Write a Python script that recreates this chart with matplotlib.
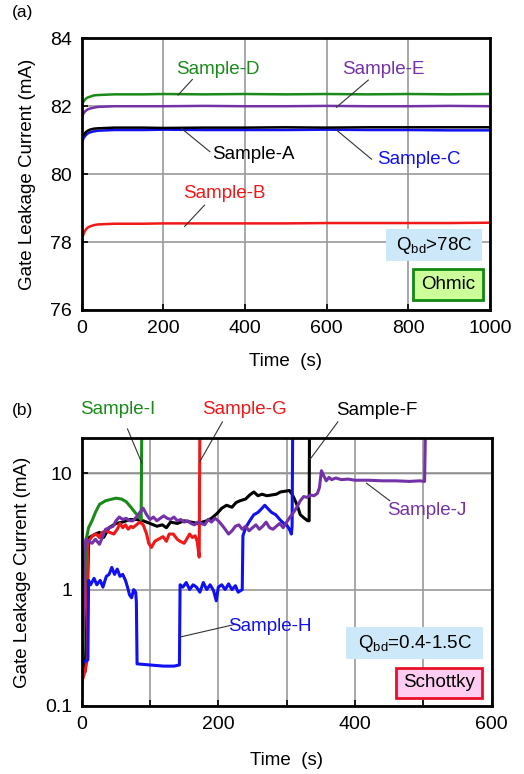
import numpy as np
import matplotlib
matplotlib.use('Agg')
import matplotlib.pyplot as plt
from matplotlib.patches import Rectangle

plt.rcParams['font.family'] = ['Liberation Sans', 'DejaVu Sans']
plt.rcParams['mathtext.fontset'] = 'custom'
plt.rcParams['mathtext.rm'] = 'Liberation Sans'
plt.rcParams['mathtext.it'] = 'Liberation Sans:italic'

GREEN = '#1a8a1a'
RED = '#f01818'
BLUE = '#1010f0'
PURPLE = '#7432a8'
BLACK = '#000000'

# ---- (a) Ohmic samples: time (s) and current (mA)
t_ohmic = [0, 2, 5, 10, 15, 20, 30, 40, 60, 80, 100, 150, 200, 300, 400, 500, 600, 700, 800, 900, 1000]
sample_a = [81.00, 81.08, 81.16, 81.24, 81.28, 81.31, 81.34, 81.35, 81.36, 81.37, 81.37, 81.37, 81.36,
            81.37, 81.37, 81.38, 81.37, 81.38, 81.38, 81.38, 81.38]
sample_b = [78.05, 78.15, 78.26, 78.37, 78.43, 78.46, 78.50, 78.52, 78.53, 78.54, 78.54, 78.54, 78.55,
            78.55, 78.55, 78.55, 78.56, 78.56, 78.56, 78.56, 78.57]
sample_c = [80.90, 80.98, 81.07, 81.15, 81.20, 81.23, 81.26, 81.28, 81.29, 81.30, 81.30, 81.30, 81.31,
            81.30, 81.30, 81.30, 81.31, 81.30, 81.30, 81.29, 81.29]
sample_d = [82.00, 82.08, 82.15, 82.22, 82.26, 82.28, 82.32, 82.33, 82.34, 82.35, 82.35, 82.35, 82.36,
            82.35, 82.36, 82.35, 82.36, 82.35, 82.36, 82.35, 82.36]
sample_e = [81.65, 81.73, 81.80, 81.87, 81.91, 81.93, 81.96, 81.98, 81.99, 82.00, 82.00, 82.00, 82.00,
            82.01, 82.00, 82.00, 82.01, 82.00, 82.00, 82.01, 82.00]

# ---- (b) Schottky samples: (time s, current mA)
sample_f = [(5, 0.2), (10, 2.4), (11, 2.8), (20, 3.0), (26, 3.1), (32, 2.8), (40, 3.4), (50, 3.7),
            (60, 3.8), (70, 4.0), (80, 4.0), (90, 3.9), (100, 3.7), (110, 3.5), (118, 3.6), (124, 3.4),
            (130, 3.8), (140, 3.7), (150, 3.9), (160, 3.8), (170, 3.7), (183, 3.9), (190, 4.1),
            (198, 4.5), (205, 5.0), (212, 5.3), (220, 5.1), (226, 5.6), (232, 5.8), (240, 6.0),
            (246, 6.5), (252, 6.9), (258, 6.4), (264, 6.6), (271, 6.4), (278, 6.5), (285, 6.6),
            (291, 6.9), (298, 7.0), (304, 7.1), (308, 6.6), (312, 5.9), (316, 5.2), (320, 4.4),
            (326, 4.1), (331, 3.9), (333, 3.9), (333.5, 30)]
sample_g = [(0, 0.16), (5, 0.2), (8, 0.25), (9, 2.6), (12, 2.7), (16, 2.9), (21, 3.0), (26, 2.8),
            (30, 3.1), (35, 3.2), (41, 3.1), (47, 3.0), (52, 3.3), (56, 3.7), (60, 3.4), (64, 3.6),
            (68, 3.3), (72, 3.5), (75, 3.4), (80, 3.6), (85, 3.8), (90, 3.6), (95, 3.0), (98, 2.5),
            (102, 2.3), (107, 2.6), (112, 2.7), (119, 2.85), (124, 2.6), (128, 3.0), (134, 3.0),
            (140, 2.7), (144, 2.6), (150, 2.5), (155, 2.8), (158, 3.0), (162, 2.8), (166, 2.9),
            (169, 2.6), (172, 1.9), (173, 30)]
sample_h = [(0, 0.16), (1, 0.24), (5, 0.24), (9, 0.25), (10, 1.2), (13, 1.1), (18, 1.25), (22, 1.1),
            (27, 1.2), (31, 1.05), (36, 1.3), (40, 1.35), (44, 1.55), (48, 1.35), (52, 1.5), (56, 1.3),
            (60, 1.35), (64, 1.2), (67, 1.05), (70, 0.9), (73, 0.85), (76, 1.0), (79, 0.95),
            (80, 0.78), (81, 0.23), (100, 0.225), (120, 0.22), (135, 0.22), (143, 0.225), (144, 1.1),
            (148, 1.05), (153, 1.15), (158, 1.0), (163, 1.1), (168, 1.05), (173, 0.95), (178, 1.15),
            (183, 1.0), (188, 1.1), (193, 0.98), (197, 0.8), (200, 1.05), (205, 1.1), (210, 1.0),
            (215, 1.12), (220, 1.0), (225, 1.08), (229, 0.95), (235, 1.0), (236, 2.9), (240, 3.4),
            (246, 3.9), (252, 4.4), (258, 4.6), (264, 5.0), (268, 5.3), (272, 5.0), (278, 4.6),
            (284, 4.4), (290, 4.0), (296, 3.7), (300, 3.6), (304, 3.3), (307, 3.0), (308, 3.5),
            (309, 30)]
sample_i = [(0, 0.15), (3, 0.5), (6, 2.6), (10, 3.4), (15, 3.9), (20, 4.6), (26, 5.4), (35, 5.8),
            (45, 6.0), (50, 6.1), (58, 6.0), (65, 5.7), (72, 5.1), (78, 4.6), (84, 4.2), (87, 4.0),
            (88, 30)]
sample_j = [(0, 0.13), (2, 0.5), (4, 2.0), (6, 2.7), (10, 2.6), (15, 2.5), (20, 2.7), (26, 2.45),
            (30, 2.8), (35, 3.3), (41, 3.4), (46, 3.5), (50, 3.9), (55, 4.2), (60, 4.0), (65, 4.1),
            (70, 3.9), (75, 3.9), (80, 4.2), (85, 4.6), (90, 5.0), (95, 4.4), (100, 4.0), (105, 4.2),
            (110, 3.9), (115, 4.1), (120, 4.3), (125, 4.1), (130, 4.0), (135, 4.2), (140, 3.9),
            (145, 4.0), (150, 3.8), (155, 3.9), (160, 3.7), (165, 3.6), (170, 3.8), (175, 3.7),
            (180, 3.6), (185, 4.0), (190, 3.8), (195, 4.1), (200, 3.9), (205, 3.6), (210, 3.3),
            (215, 3.0), (220, 3.2), (225, 3.5), (230, 3.6), (235, 3.3), (240, 3.5), (245, 3.2),
            (250, 3.4), (255, 3.6), (260, 3.3), (265, 3.5), (270, 3.8), (275, 3.4), (280, 3.3),
            (285, 3.5), (290, 3.7), (295, 3.4), (300, 3.8), (305, 4.2), (310, 4.6), (315, 5.1),
            (320, 5.8), (325, 6.3), (330, 6.2), (335, 6.5), (340, 6.4), (345, 6.7), (348, 7.5),
            (351, 10.5), (354, 9.6), (358, 8.6), (362, 9.2), (366, 8.8), (372, 9.1), (380, 8.8),
            (390, 8.9), (400, 8.7), (420, 8.7), (440, 8.6), (460, 8.6), (480, 8.5), (495, 8.6),
            (502, 8.5), (503, 19)]

FS = 13.5


def style_axes(ax):
    for sp in ax.spines.values():
        sp.set_linewidth(2.0)
    ax.tick_params(direction='in', length=4, width=1.2, labelsize=14, pad=7)
    ax.grid(True, color='#9a9a9a', linewidth=1.2)
    ax.set_axisbelow(True)


def label(ax, text, pos, start, end, color):
    ax.text(pos[0], pos[1], text, color=color, fontsize=FS, ha='center', va='center', clip_on=False)
    ax.plot([start[0], end[0]], [start[1], end[1]], color='#333333', lw=0.8, clip_on=False)


def tag_box(ax, x0, y0, x1, y1, text, face, edge):
    ax.add_patch(Rectangle((x0, y0), x1 - x0, y1 - y0, transform=ax.transAxes,
                           facecolor=face, edgecolor=edge, lw=2 if edge != 'none' else 0, zorder=5))
    ax.text((x0 + x1) / 2, (y0 + y1) / 2, text, transform=ax.transAxes, fontsize=FS,
            ha='center', va='center', zorder=6)


fig = plt.figure(figsize=(5.24, 7.74), dpi=100)

# ---------------- (a)
ax1 = fig.add_axes([0.156, 0.5995, 0.779, 0.351])
style_axes(ax1)
ax1.plot(t_ohmic, sample_b, color=RED, lw=1.8)
ax1.plot(t_ohmic, sample_c, color=BLUE, lw=1.8)
ax1.plot(t_ohmic, sample_a, color=BLACK, lw=1.8)
ax1.plot(t_ohmic, sample_e, color=PURPLE, lw=1.8)
ax1.plot(t_ohmic, sample_d, color=GREEN, lw=1.8)
ax1.set_xlim(0, 1000)
ax1.set_ylim(76, 84)
ax1.set_xticks(np.arange(0, 1001, 200))
ax1.set_yticks(np.arange(76, 85, 2))
ax1.set_xlabel('Time  (s)', fontsize=FS, labelpad=12)
ax1.set_ylabel('Gate Leakage Current (mA)', fontsize=FS, labelpad=10)

label(ax1, 'Sample-D', (333, 83.09), (271, 82.79), (236, 82.33), GREEN)
label(ax1, 'Sample-E', (738, 83.07), (702, 82.77), (624, 81.97), PURPLE)
label(ax1, 'Sample-A', (420, 80.59), (314, 80.66), (244, 81.35), BLACK)
label(ax1, 'Sample-C', (825, 80.44), (710, 80.44), (624, 81.30), BLUE)
label(ax1, 'Sample-B', (350, 79.44), (301, 79.09), (252, 78.46), RED)

tag_box(ax1, 0.745, 0.180, 0.980, 0.298, r'Q$_{\mathrm{bd}}$>78C', '#cde8f8', 'none')
tag_box(ax1, 0.811, 0.037, 0.983, 0.151, 'Ohmic', '#ccff99', '#118811')
fig.text(0.023, 0.984, '(a)', fontsize=12.5, va='center')

# ---------------- (b)
ax2 = fig.add_axes([0.156, 0.0879, 0.782, 0.346])
style_axes(ax2)
ax2.axhline(10, color='#555555', lw=1.0, zorder=0.5)
for pts, col in [(sample_f, BLACK), (sample_g, RED), (sample_i, GREEN), (sample_h, BLUE), (sample_j, PURPLE)]:
    arr = np.array(pts)
    ax2.plot(arr[:, 0], arr[:, 1], color=col, lw=2.2)
ax2.set_yscale('log')
ax2.set_xlim(0, 600)
ax2.set_ylim(0.1, 20)
ax2.set_xticks(np.arange(0, 601, 100))
ax2.set_xticklabels(['0', '', '200', '', '400', '', '600'])
ax2.set_yticks([0.1, 1, 10])
ax2.set_yticklabels(['0.1', '1', '10'])
ax2.yaxis.set_minor_locator(matplotlib.ticker.NullLocator())
ax2.set_xlabel('Time  (s)', fontsize=FS, labelpad=14)
ax2.set_ylabel('Gate Leakage Current (mA)', fontsize=FS, labelpad=10)

label(ax2, 'Sample-I', (52.7, 35.6), (67, 24), (88, 12.2), GREEN)
label(ax2, 'Sample-G', (238.5, 35.6), (206, 27.6), (173, 12.6), RED)
label(ax2, 'Sample-F', (432, 34.8), (375, 27.6), (334, 13.1), BLACK)
label(ax2, 'Sample-J', (505, 4.77), (451, 5.8), (417, 8.2), PURPLE)
label(ax2, 'Sample-H', (275, 0.485), (223, 0.5), (143, 0.39), BLUE)

tag_box(ax2, 0.646, 0.175, 0.980, 0.295, r'Q$_{\mathrm{bd}}$=0.4-1.5C', '#cde8f8', 'none')
tag_box(ax2, 0.768, 0.030, 0.978, 0.142, 'Schottky', '#ffccf2', '#e8102a')
fig.text(0.023, 0.470, '(b)', fontsize=12.5, va='center')

fig.savefig('out.png', dpi=100)
